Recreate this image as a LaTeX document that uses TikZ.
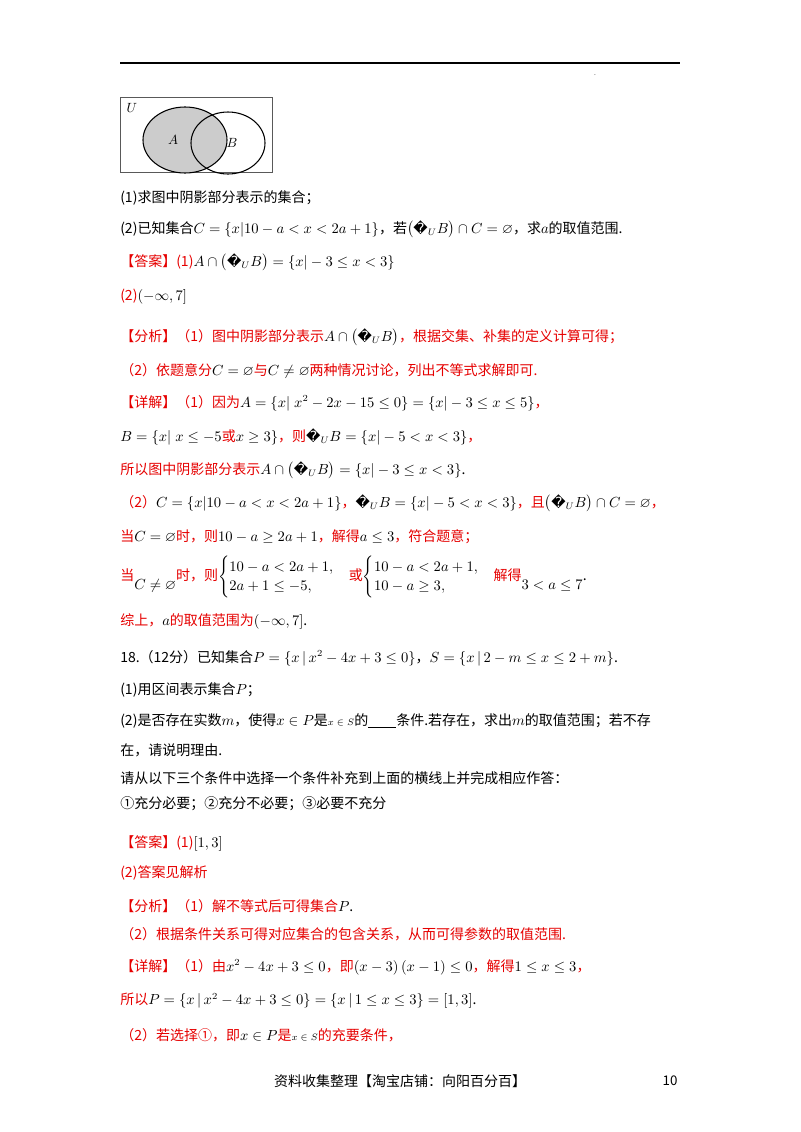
\documentclass[tikz,border=0pt]{standalone}
\usepackage{amsmath,amssymb}
\usepackage[no-math]{fontspec}
\setmainfont{Noto Sans CJK SC}
\newfontfamily\dejavu{DejaVu Sans}
\definecolor{rd}{RGB}{230,0,0}
\newcommand{\R}[1]{\textcolor{rd}{#1}}
\newcommand{\cu}{\text{\dejavu\char"FFFD}_{U}}
\tikzset{ln/.style={anchor=west,inner sep=0pt,font=\fontsize{10.5}{12}\selectfont}}
\begin{document}
\begin{tikzpicture}[x=0.75pt,y=-0.75pt]
\useasboundingbox (0,0) rectangle (800,1132);
\fill[white] (0,0) rectangle (800,1132);
\draw[line width=1pt] (120,63) -- (680,63);
\node[inner sep=0pt,font=\tiny] (dot) at (595,75) {.};
% Venn
\draw[line width=0.6pt,gray!70!black] (120,97) rectangle (272,172);
\node[font=\itshape] (u) at (132,108) {$U$};
\draw[fill=gray!40,line width=0.8pt] (185,140) ellipse (42 and 33);
\draw[line width=0.8pt] (228,143) ellipse (37 and 31);
\node (la) at (173,140) {$A$};
\node (lb) at (232,143) {$B$};
\node[ln] (l1) at (120,198) {(1)求图中阴影部分表示的集合；};
\node[ln] (l2) at (120,229) {(2)已知集合$C=\{x|10-a<x<2a+1\}$，若$\left(\cu B\right)\cap C=\varnothing$，求$a$的取值范围.};
\node[ln] (l3) at (120,262) {\R{【答案】(1)}$A\cap\left(\cu B\right)=\{x|-3\le x<3\}$};
\node[ln] (l4) at (120,297) {\R{(2)}$\left(-\infty,7\right]$};
\node[ln] (l5) at (120,337) {\R{【分析】（1）图中阴影部分表示}$A\cap\left(\cu B\right)$\R{，根据交集、补集的定义计算可得；}};
\node[ln] (l6) at (120,371) {\R{（2）依题意分}$C=\varnothing$\R{与}$C\ne\varnothing$\R{两种情况讨论，列出不等式求解即可.}};
\node[ln] (l7) at (120,403) {\R{【详解】（1）因为}$A=\left\{x|\;x^2-2x-15\le 0\right\}=\left\{x|-3\le x\le 5\right\}$\R{，}};
\node[ln] (l8) at (120,437) {$B=\{x|\;x\le -5$\R{或}$x\ge 3\}$\R{，则}$\cu B=\left\{x|-5<x<3\right\}$\R{，}};
\node[ln] (l9) at (120,470) {\R{所以图中阴影部分表示}$A\cap\left(\cu B\right)=\{x|-3\le x<3\}$.};
\node[ln] (l10) at (120,503) {\R{（2）}$C=\{x|10-a<x<2a+1\}$\R{，}$\cu B=\left\{x|-5<x<3\right\}$\R{，且}$\left(\cu B\right)\cap C=\varnothing$\R{，}};
\node[ln] (l11) at (120,537) {\R{当}$C=\varnothing$\R{时，则}$10-a\ge 2a+1$\R{，解得}$a\le 3$\R{，符合题意；}};
\node[ln] (l12) at (120,577) {\R{当}\raisebox{-1.2ex}{$C\ne\varnothing$}\R{时，则}$\begin{cases}10-a<2a+1,\\2a+1\le -5,\end{cases}$\R{或}$\begin{cases}10-a<2a+1,\\10-a\ge 3,\end{cases}$\R{解得}\raisebox{-1.2ex}{$3<a\le 7$}.};
\node[ln] (l13) at (120,621) {\R{综上，}$a$\R{的取值范围为}$\left(-\infty,7\right]$.};
\node[ln] (l14) at (120,658) {18.（12分）已知集合$P=\{x\,|\,x^2-4x+3\le 0\}$，$S=\{x\,|\,2-m\le x\le 2+m\}$.};
\node[ln] (l15) at (120,690) {(1)用区间表示集合$P$；};
\node[ln] (l16) at (120,721) {(2)是否存在实数$m$，使得$x\in P$是{\scriptsize$x\in S$}的\underline{\hspace{2em}}条件.若存在，求出$m$的取值范围；若不存};
\node[ln] (l17) at (120,750) {在，请说明理由.};
\node[ln] (l18) at (120,778) {请从以下三个条件中选择一个条件补充到上面的横线上并完成相应作答：};
\node[ln] (l19) at (120,804) {①充分必要；②充分不必要；③必要不充分};
\node[ln] (l20) at (120,843) {\R{【答案】(1)}$\left[1,3\right]$};
\node[ln] (l21) at (120,873) {\R{(2)答案见解析}};
\node[ln] (l22) at (120,906) {\R{【分析】（1）解不等式后可得集合}$P$.};
\node[ln] (l23) at (120,934) {\R{（2）根据条件关系可得对应集合的包含关系，从而可得参数的取值范围.}};
\node[ln] (l24) at (120,967) {\R{【详解】（1）由}$x^2-4x+3\le 0$\R{，即}$\left(x-3\right)\left(x-1\right)\le 0$\R{，解得}$1\le x\le 3$\R{，}};
\node[ln] (l25) at (120,1001) {\R{所以}$P=\left\{x\,|\,x^2-4x+3\le 0\right\}=\left\{x\,|\,1\le x\le 3\right\}=\left[1,3\right]$.};
\node[ln] (l26) at (120,1035) {\R{（2）若选择①，即}$x\in P$\R{是}{\scriptsize$x\in S$}\R{的充要条件，}};
\node[inner sep=0pt,font=\fontsize{10.5}{12}\selectfont] (ft) at (400,1081) {资料收集整理【淘宝店铺：向阳百分百】};
\node[inner sep=0pt,font=\fontsize{10}{12}\selectfont] (pg) at (670,1081) {10};
\end{tikzpicture}
\end{document}
